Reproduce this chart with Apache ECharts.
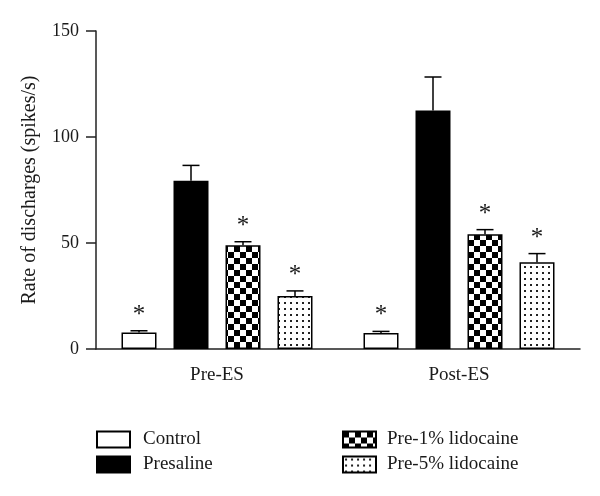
<!DOCTYPE html>
<html>
<head>
<meta charset="utf-8">
<script src="https://cdn.jsdelivr.net/npm/echarts@6/dist/echarts.min.js"></script>
<style>html,body{margin:0;padding:0;background:#fff}#c{width:600px;height:496px}</style>
</head>
<body>
<div id="c"></div>
<script>
const categories = ['Pre-ES', 'Post-ES'];
const seriesNames = ['Control', 'Presaline', 'Pre-1% lidocaine', 'Pre-5% lidocaine'];
const controlVals = [7.8, 7.5];
const presalineVals = [79.4, 112.5];
const lido1Vals = [48.9, 54.1];
const lido5Vals = [25.0, 40.9];
const controlErr = [0.8, 0.8];
const presalineErr = [7.2, 15.8];
const lido1Err = [1.7, 2.2];
const lido5Err = [2.4, 4.1];
const controlSig = [1, 1];
const presalineSig = [0, 0];
const lido1Sig = [1, 1];
const lido5Sig = [1, 1];
const yTicks = [0, 50, 100, 150];

const FONT = 'Liberation Serif';
const INK = '#1a1a1a';
const BAR_W = 35, BAR_GAP = 17;

function makeChecker() {
  const c = document.createElement('canvas');
  c.width = 12; c.height = 12;
  const g = c.getContext('2d');
  g.fillStyle = '#fff'; g.fillRect(0, 0, 12, 12);
  g.fillStyle = '#000';
  g.fillRect(0, 0, 6, 6); g.fillRect(6, 6, 6, 6);
  return c;
}
function makeDots() {
  const c = document.createElement('canvas');
  c.width = 6; c.height = 6;
  const g = c.getContext('2d');
  g.fillStyle = '#fff'; g.fillRect(0, 0, 6, 6);
  g.fillStyle = '#222';
  g.fillRect(2, 2, 2, 2);
  return c;
}
const fills = [
  '#ffffff',
  '#000000',
  { image: makeChecker(), repeat: 'repeat' },
  { image: makeDots(), repeat: 'repeat' }
];
const vals = [controlVals, presalineVals, lido1Vals, lido5Vals];
const errs = [controlErr, presalineErr, lido1Err, lido5Err];
const sigs = [controlSig, presalineSig, lido1Sig, lido5Sig];

const series = [];
seriesNames.forEach((n, i) => {
  series.push({
    name: n, type: 'bar', data: vals[i], barWidth: BAR_W,
    barGap: (BAR_GAP / BAR_W * 100) + '%',
    itemStyle: { color: fills[i], borderColor: '#000', borderWidth: 1.5 },
    emphasis: { disabled: true }, animation: false
  });
});
seriesNames.forEach((n, i) => {
  const offset = (i - 1.5) * (BAR_W + BAR_GAP);
  series.push({
    type: 'custom', animation: false, silent: true, z: 5,
    data: categories.map((c, k) => [k, vals[i][k], errs[i][k], sigs[i][k]]),
    encode: { x: 0, y: 1 },
    renderItem: function (params, api) {
      const base = api.coord([api.value(0), api.value(1)]);
      const top = api.coord([api.value(0), api.value(1) + api.value(2)]);
      const x = base[0] + offset;
      const children = [
        { type: 'line', shape: { x1: x, y1: base[1], x2: x, y2: top[1] }, style: { stroke: '#000', lineWidth: 1.5 } },
        { type: 'line', shape: { x1: x - 8.5, y1: top[1], x2: x + 8.5, y2: top[1] }, style: { stroke: '#000', lineWidth: 1.5 } }
      ];
      if (api.value(3)) {
        children.push({ type: 'text', x: x, y: top[1] - 3,
          style: { text: '*', fill: INK, font: '25px "' + FONT + '"', align: 'center', verticalAlign: 'bottom' } });
      }
      return { type: 'group', children: children };
    }
  });
});

const chart = echarts.init(document.getElementById('c'), null, { renderer: 'canvas' });
chart.setOption({
  animation: false,
  backgroundColor: '#fff',
  grid: { left: 96, right: 20, top: 31, bottom: 147, containLabel: false },
  xAxis: {
    type: 'category', data: categories,
    axisLine: { lineStyle: { color: '#222', width: 1.5 } },
    axisTick: { alignWithLabel: true, length: 8, lineStyle: { color: '#222', width: 1.5 } },
    axisLabel: { color: INK, fontFamily: FONT, fontSize: 19, margin: 17 }
  },
  yAxis: {
    type: 'value', min: 0, max: 150, interval: 50,
    name: 'Rate of discharges (spikes/s)', nameLocation: 'middle', nameGap: 56,
    nameTextStyle: { color: INK, fontFamily: FONT, fontSize: 20 },
    splitLine: { show: false },
    axisLine: { show: true, lineStyle: { color: '#222', width: 1.5 } },
    axisTick: { show: true, length: 10, lineStyle: { color: '#222', width: 1.5 } },
    axisLabel: { color: INK, fontFamily: FONT, fontSize: 18, margin: 17,
      formatter: v => yTicks.includes(v) ? String(v) : '' }
  },
  legend: [
    { data: seriesNames.slice(0, 2), orient: 'vertical', left: 96, top: 430, padding: 0,
      itemWidth: 33, itemHeight: 16, itemGap: 6, icon: 'rect', selectedMode: false,
      textStyle: { color: INK, fontFamily: FONT, fontSize: 19, lineHeight: 16, padding: [0, 0, 0, 8] } },
    { data: seriesNames.slice(2, 4), orient: 'vertical', left: 342, top: 430, padding: 0,
      itemWidth: 33, itemHeight: 16, itemGap: 6, icon: 'rect', selectedMode: false,
      textStyle: { color: INK, fontFamily: FONT, fontSize: 19, lineHeight: 16, padding: [0, 0, 0, 6] } }
  ],
  series: series
});
</script>
</body>
</html>
